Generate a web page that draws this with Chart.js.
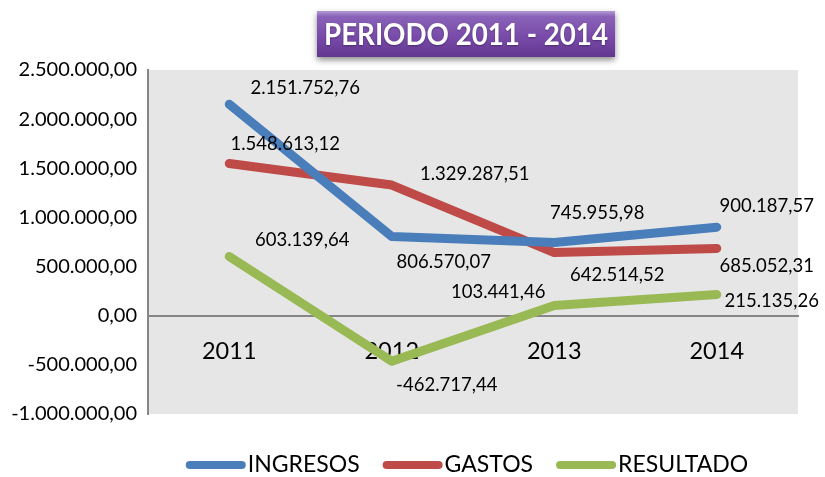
<!DOCTYPE html>
<html><head><meta charset="utf-8">
<script src="https://cdn.jsdelivr.net/npm/chart.js@4"></script>
<style>html,body{margin:0;padding:0;background:#fff}#wrap{width:825px;height:477px;position:relative}</style>
</head><body><div id="wrap"><canvas id="c" width="825" height="477"></canvas></div>
<script>
const categories = ['2011', '2012', '2013', '2014'];
const ingresos = [2151752.76, 806570.07, 745955.98, 900187.57];
const gastos = [1548613.12, 1329287.51, 642514.52, 685052.31];
const resultado = [603139.64, -462717.44, 103441.46, 215135.26];
const seriesNames = ['INGRESOS', 'GASTOS', 'RESULTADO'];
const titleText = 'PERIODO 2011 - 2014';
const yMin = -1000000, yMax = 2500000, yStep = 500000;

// pixel offsets of value labels from their point (style/position only)
const labelOffsets = [
  [[76, -16], [52, 26], [43, -29], [50, -21]],
  [[56, -19], [83, -11], [63, 22], [50, 18]],
  [[73, -16], [55, 24], [-56, -14], [55, 6]]
];

function fmt(v) {
  const neg = v < 0;
  const s = Math.abs(v).toFixed(2).split('.');
  const intPart = s[0].replace(/\B(?=(\d{3})+(?!\d))/g, '.');
  return (neg ? '-' : '') + intPart + ',' + s[1];
}

const FONT = 'Lato, "Open Sans", sans-serif';

const plotBg = {
  id: 'plotBg',
  beforeDraw(chart) {
    const {ctx, chartArea: a} = chart;
    ctx.save();
    ctx.fillStyle = '#e6e6e6';
    ctx.fillRect(a.left, a.top, a.right - a.left, a.bottom - a.top);
    ctx.restore();
  }
};

const titleBox = {
  id: 'titleBox',
  afterDraw(chart) {
    const ctx = chart.ctx;
    const x = 317, y = 11, w = 298, h = 46;
    ctx.save();
    ctx.shadowColor = 'rgba(0,0,0,0.45)';
    ctx.shadowBlur = 6;
    ctx.shadowOffsetY = 3;
    const g = ctx.createLinearGradient(0, y, 0, y + h);
    g.addColorStop(0, '#b49bd3');
    g.addColorStop(0.12, '#8a62b8');
    g.addColorStop(0.6, '#7749a8');
    g.addColorStop(1, '#62378f');
    ctx.fillStyle = g;
    ctx.fillRect(x, y, w, h);
    ctx.restore();
    ctx.save();
    ctx.fillStyle = '#ffffff';
    ctx.font = 'bold 30px ' + FONT;
    ctx.textAlign = 'center';
    ctx.textBaseline = 'middle';
    ctx.shadowColor = 'rgba(0,0,0,0.35)';
    ctx.shadowBlur = 2;
    ctx.shadowOffsetY = 1;
    ctx.fillText(titleText, x + w / 2, y + h / 2 + 1, 284);
    ctx.restore();
  }
};

const valueLabels = {
  id: 'valueLabels',
  afterDatasetsDraw(chart) {
    const ctx = chart.ctx;
    ctx.save();
    ctx.font = '18.5px ' + FONT;
    ctx.fillStyle = '#000';
    ctx.textAlign = 'center';
    ctx.textBaseline = 'middle';
    chart.data.datasets.forEach((ds, di) => {
      const meta = chart.getDatasetMeta(di);
      meta.data.forEach((pt, i) => {
        const off = labelOffsets[di][i];
        ctx.fillText(fmt(ds.data[i]), pt.x + off[0], pt.y + off[1]);
      });
    });
    ctx.restore();
  }
};

// legend drawn from the chart's datasets (line swatch + label)
const lineLegend = {
  id: 'lineLegend',
  afterDraw(chart) {
    const ctx = chart.ctx;
    const sw = 52, lw = 8, gap = 2, itemGap = 23, cy = 465;
    ctx.save();
    ctx.font = '23px ' + FONT;
    const items = chart.data.datasets.map(ds => ({
      ds, tw: ctx.measureText(ds.label).width
    }));
    const total = items.reduce((s, it) => s + lw + sw + gap + it.tw, 0) + itemGap * (items.length - 1);
    let x = 467 - total / 2;
    items.forEach(it => {
      ctx.strokeStyle = it.ds.borderColor;
      ctx.lineWidth = lw;
      ctx.lineCap = 'round';
      ctx.beginPath();
      ctx.moveTo(x + lw / 2, cy);
      ctx.lineTo(x + lw / 2 + sw, cy);
      ctx.stroke();
      x += lw + sw + gap;
      ctx.fillStyle = '#000';
      ctx.textAlign = 'left';
      ctx.textBaseline = 'middle';
      ctx.fillText(it.ds.label, x, cy);
      x += it.tw + itemGap;
    });
    ctx.restore();
  }
};

const colors = ['#4a7ebb', '#be4b48', '#98b954'];
const seriesData = [ingresos, gastos, resultado];

new Chart(document.getElementById('c'), {
  type: 'line',
  data: {
    labels: categories,
    datasets: seriesNames.map((n, i) => ({
      label: n,
      data: seriesData[i],
      borderColor: colors[i],
      backgroundColor: colors[i],
      borderWidth: 9,
      borderCapStyle: 'round',
      borderJoinStyle: 'round',
      pointRadius: 0,
      pointHoverRadius: 0,
      tension: 0,
      fill: false
    }))
  },
  options: {
    responsive: false,
    animation: false,
    devicePixelRatio: 1,
    layout: { padding: { left: 0, right: 27, top: 70, bottom: 63 } },
    scales: {
      x: {
        type: 'category',
        position: { y: 0 },
        offset: true,
        grid: { display: false, drawTicks: false },
        border: { display: true, color: '#868686', width: 2 },
        ticks: { color: '#000', font: { family: FONT, size: 23.5 }, padding: 22 }
      },
      y: {
        min: yMin, max: yMax,
        grid: { display: false, drawTicks: false },
        border: { display: true, color: '#868686', width: 2 },
        ticks: {
          stepSize: yStep,
          color: '#000',
          font: { family: FONT, size: 20 },
          padding: 11,
          callback: v => fmt(v)
        },
        afterFit: s => { s.width = 148; }
      }
    },
    plugins: {
      legend: { display: false },
      tooltip: { enabled: false },
      title: { display: false }
    }
  },
  plugins: [plotBg, titleBox, valueLabels, lineLegend]
});
</script>
</body></html>
